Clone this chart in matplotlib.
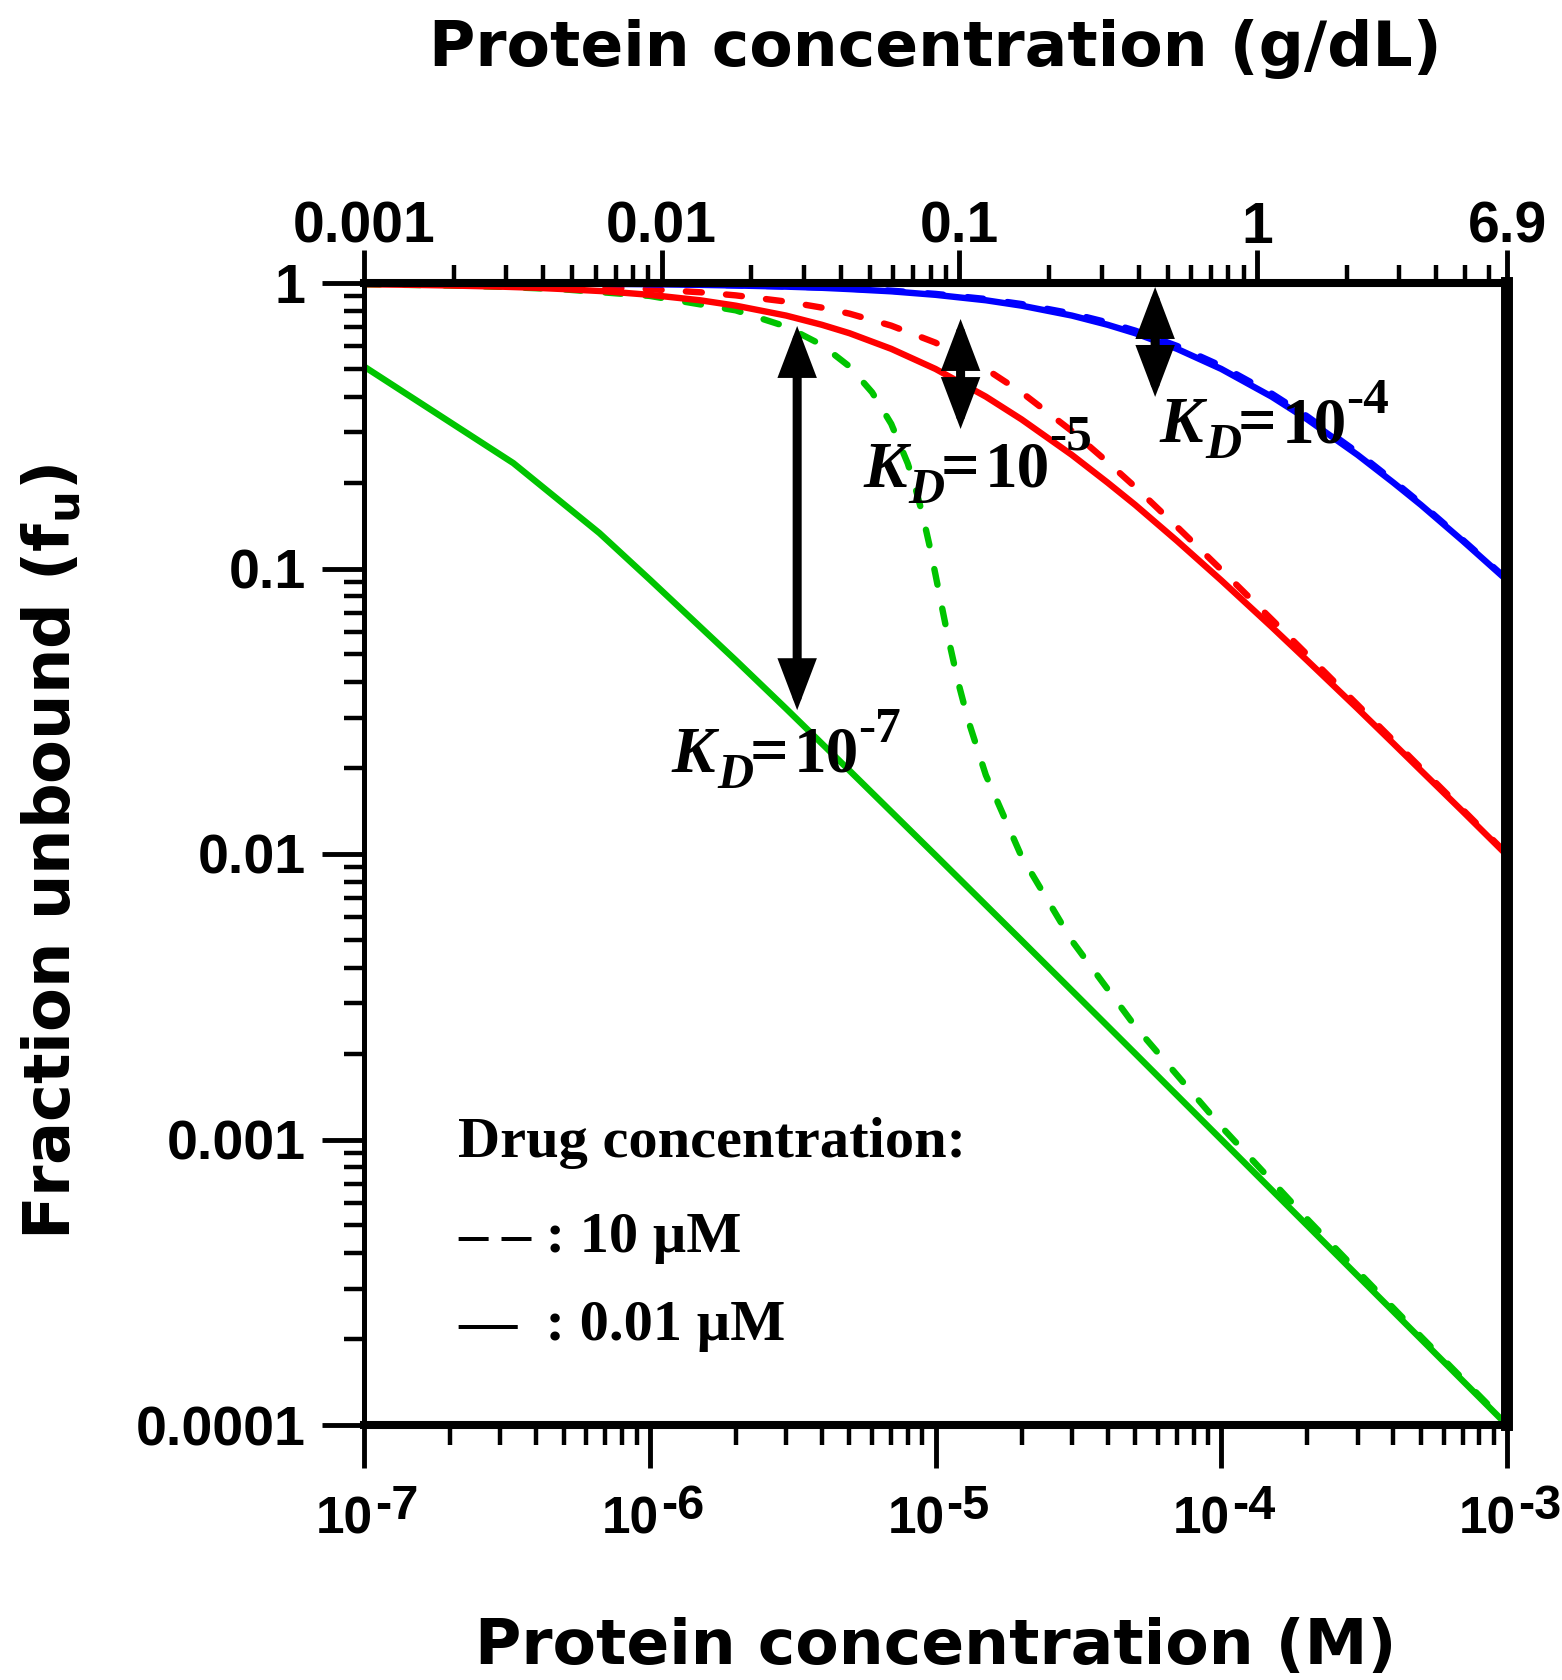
import numpy as np
import matplotlib
matplotlib.use("Agg")
import matplotlib.pyplot as plt
import matplotlib.transforms as mtransforms
from matplotlib.ticker import FixedLocator, NullFormatter, LogLocator

# ---------------- data ----------------
# protein concentration grid (M) for the smooth curves
protein_M = [1e-7, 1.5e-7, 2e-7, 3e-7, 4e-7, 5e-7, 7e-7,
             1e-6, 1.5e-6, 2e-6, 3e-6, 4e-6, 5e-6, 7e-6,
             1e-5, 1.5e-5, 2e-5, 3e-5, 4e-5, 5e-5, 7e-5,
             1e-4, 1.5e-4, 2e-4, 3e-4, 4e-4, 5e-4, 7e-4, 1e-3]

# KD = 1e-4 M
fu_kd4_low = [0.999, 0.9985, 0.998, 0.997, 0.996, 0.995, 0.993,
              0.990, 0.985, 0.980, 0.971, 0.962, 0.952, 0.935,
              0.909, 0.870, 0.833, 0.769, 0.714, 0.667, 0.588,
              0.500, 0.400, 0.333, 0.250, 0.200, 0.167, 0.125, 0.0909]
fu_kd4_high = [0.999, 0.9985, 0.998, 0.997, 0.996, 0.995, 0.994,
               0.991, 0.987, 0.982, 0.973, 0.965, 0.956, 0.940,
               0.916, 0.879, 0.844, 0.782, 0.728, 0.681, 0.602,
               0.5125, 0.410, 0.341, 0.255, 0.203, 0.169, 0.126, 0.0917]
# KD = 1e-5 M
fu_kd5_low = [0.990, 0.985, 0.980, 0.971, 0.962, 0.952, 0.935,
              0.909, 0.870, 0.833, 0.769, 0.714, 0.667, 0.588,
              0.500, 0.400, 0.333, 0.250, 0.200, 0.167, 0.125,
              0.0909, 0.0625, 0.0476, 0.0323, 0.0244, 0.0196, 0.0141, 0.0099]
fu_kd5_high = [0.995, 0.9925, 0.990, 0.985, 0.980, 0.975, 0.966,
               0.951, 0.928, 0.905, 0.861, 0.820, 0.781, 0.709,
               0.618, 0.500, 0.414, 0.303, 0.236, 0.193, 0.140,
               0.0990, 0.0664, 0.0499, 0.0333, 0.0250, 0.0200, 0.0143, 0.0100]
# KD = 1e-7 M, 0.01 uM drug (coarse sampling visible as kinks)
protein_M_kd7_low = [1e-7, 3.33e-7, 6.67e-7, 1e-6, 2e-6, 3e-6, 5e-6, 1e-5,
                     2e-5, 5e-5, 1e-4, 2e-4, 5e-4, 1e-3]
fu_kd7_low = [0.51, 0.234, 0.133, 0.0915, 0.0477, 0.0323, 0.0196, 0.0099,
              0.00498, 0.0020, 0.00100, 0.000500, 0.000200, 0.000100]
# KD = 1e-7 M, 10 uM drug
protein_M_kd7_high = [1e-7, 2e-7, 3e-7, 5e-7, 1e-6, 2e-6, 3e-6, 4e-6, 5e-6, 6e-6,
                      7e-6, 8e-6, 8.5e-6, 9e-6, 9.5e-6, 1e-5, 1.05e-5, 1.1e-5, 1.2e-5,
                      1.3e-5, 1.5e-5, 2e-5, 3e-5, 5e-5, 1e-4, 2e-4, 5e-4, 1e-3]
fu_kd7_high = [0.990, 0.980, 0.970, 0.950, 0.901, 0.802, 0.704, 0.607, 0.510, 0.414,
               0.321, 0.233, 0.192, 0.155, 0.122, 0.0951, 0.0744, 0.0591, 0.0400,
               0.0295, 0.0189, 0.0098, 0.00497, 0.00249, 0.00111, 0.000526, 0.000204, 0.000101]

y_ticks = [1e-4, 1e-3, 1e-2, 1e-1, 1]
y_ticklabels = ["0.0001", "0.001", "0.01", "0.1", "1"]
x_exponents = [-7, -6, -5, -4, -3]
top_ticks = [0.001, 0.01, 0.1, 1, 6.9]
top_ticklabels = ["0.001", "0.01", "0.1", "1", "6.9"]
top_minor = [k * 10.0 ** e for e in (-3, -2, -1) for k in range(2, 10)] + [2, 3, 4, 5, 6]

# annotation labels: (x, y, exponent, superscript raise px) and arrows
kd_labels = [(6.10e-5, 0.2773, "-4", 29), (5.575e-6, 0.1930, "-5", 37), (1.196e-6, 0.01938, "-7", 30)]
arrows = [(5.87e-5, 0.968, 0.399), (1.224e-5, 0.748, 0.308), (3.28e-6, 0.707, 0.0319)]

# ---------------- figure ----------------
W, H = 1562, 1680
fig = plt.figure(figsize=(W / 100, H / 100), dpi=100)
L, R, T, B = 364, 1507, 283, 1425
ax = fig.add_axes([L / W, 1 - B / H, (R - L) / W, (B - T) / H])
ax.set_xscale("log")
ax.set_yscale("log")
ax.set_xlim(1e-7, 1e-3)
ax.set_ylim(1e-4, 1)

GREEN = "#00C400"
lw = 4.6
dash = (0, (2.5, 3.8))
ax.plot(protein_M_kd7_low, fu_kd7_low, color=GREEN, lw=lw, solid_capstyle="butt")
ax.plot(protein_M_kd7_high, fu_kd7_high, color=GREEN, lw=lw, linestyle=dash, dash_capstyle="round")
ax.plot(protein_M, fu_kd5_low, color="#FF0000", lw=lw)
ax.plot(protein_M, fu_kd5_high, color="#FF0000", lw=lw, linestyle=dash, dash_capstyle="round")
ax.plot(protein_M, fu_kd4_high, color="#0000FF", lw=lw, linestyle=dash, dash_capstyle="round")
ax.plot(protein_M, fu_kd4_low, color="#0000FF", lw=lw)

# spines
ax.spines["top"].set_visible(False)
ax.spines["left"].set_linewidth(3.6)
ax.spines["bottom"].set_linewidth(5.8)
ax.spines["right"].set_linewidth(8.6)

# y axis ticks
ax.yaxis.set_major_locator(FixedLocator(y_ticks))
ax.set_yticklabels(y_ticklabels)
ax.yaxis.set_minor_locator(LogLocator(base=10, subs=np.arange(2, 10), numticks=50))
ax.yaxis.set_minor_formatter(NullFormatter())
ax.tick_params(axis="y", which="major", direction="out", length=30, width=3.5, pad=12,
               labelsize=40)
ax.tick_params(axis="y", which="minor", direction="out", length=14.4, width=3.2)
for lab in ax.get_yticklabels():
    lab.set_fontfamily("Liberation Sans")
    lab.set_fontweight("bold")

# x axis ticks (bottom)
ax.xaxis.set_major_locator(FixedLocator([10.0 ** e for e in x_exponents]))
ax.xaxis.set_major_formatter(NullFormatter())
ax.xaxis.set_minor_locator(LogLocator(base=10, subs=np.arange(2, 10), numticks=50))
ax.xaxis.set_minor_formatter(NullFormatter())
ax.tick_params(axis="x", which="major", direction="out", length=31, width=3.5)
ax.tick_params(axis="x", which="minor", direction="out", length=14.4, width=3.2)

blend = mtransforms.blended_transform_factory(ax.transData, ax.transAxes)
t_base = mtransforms.offset_copy(blend, fig=fig, x=9, y=0, units="dots")
t_exp = mtransforms.offset_copy(blend, fig=fig, x=11, y=0, units="dots")
for e in x_exponents:
    ax.text(10.0 ** e, (B - 1534) / (B - T), "10", transform=t_base, ha="right", va="baseline",
            fontsize=37, fontweight="bold", family="Liberation Sans", clip_on=False)
    ax.text(10.0 ** e, (B - 1519) / (B - T), "-%d" % abs(e), transform=t_exp, ha="left",
            va="baseline", fontsize=35, fontweight="bold", family="Liberation Sans", clip_on=False)

# top axis (g/dL)
ax2 = ax.twiny()
ax2.set_xscale("log")
ax2.set_xlim(0.001, 6.9)
ax2.xaxis.set_major_locator(FixedLocator(top_ticks))
ax2.set_xticklabels(top_ticklabels)
ax2.xaxis.set_minor_locator(FixedLocator(top_minor))
ax2.xaxis.set_minor_formatter(NullFormatter())
ax2.tick_params(axis="x", which="major", direction="out", length=23.8, width=3.5, pad=-3.5,
                labelsize=41)
ax2.tick_params(axis="x", which="minor", direction="out", length=13, width=3.2)
for lab in ax2.get_xticklabels():
    lab.set_fontfamily("Liberation Sans")
    lab.set_fontweight("bold")
for s in ("left", "right", "bottom"):
    ax2.spines[s].set_visible(False)
ax2.spines["top"].set_linewidth(5.8)

# arrows
for x, y0, y1 in arrows:
    ax.annotate("", xy=(x, y1), xytext=(x, y0), xycoords="data",
                arrowprops=dict(arrowstyle="<|-|>,head_length=25,head_width=9.5",
                                lw=6.5, color="black", shrinkA=0, shrinkB=0,
                                mutation_scale=1, joinstyle="miter"))

# KD labels
serif = "Liberation Serif"
for x, y, ex, rise in kd_labels:
    ax.annotate("K", xy=(x, y), xytext=(0, 0), textcoords="offset pixels", ha="left",
                va="baseline", fontsize=47, fontweight="bold", fontstyle="italic", family=serif)
    ax.annotate("D", xy=(x, y), xytext=(45, -16), textcoords="offset pixels", ha="left",
                va="baseline", fontsize=36, fontweight="bold", fontstyle="italic", family=serif)
    ax.annotate("=", xy=(x, y), xytext=(78, 0), textcoords="offset pixels", ha="left",
                va="baseline", fontsize=49, fontweight="bold", family=serif)
    ax.annotate("10", xy=(x, y), xytext=(122, 0), textcoords="offset pixels", ha="left",
                va="baseline", fontsize=47, fontweight="bold", family=serif)
    ax.annotate(ex, xy=(x, y), xytext=(186, rise), textcoords="offset pixels", ha="left",
                va="baseline", fontsize=37, fontweight="bold", family=serif)

# legend-like text block
leg_x = (458 - L) / (R - L)
for txt, yb in [("Drug concentration:", 1157), ("\u2013 \u2013 : 10 \u00b5M", 1252),
                ("\u2014  : 0.01 \u00b5M", 1340)]:
    ax.text(leg_x, (B - yb) / (B - T), txt, transform=ax.transAxes, ha="left", va="baseline",
            fontsize=42, fontweight="bold", family=serif)

# axis titles
cx = (L + R) / 2 / W
fig.text(cx, 1 - 66 / H, "Protein concentration (g/dL)", ha="center", va="baseline",
         fontsize=45.5, fontweight="bold", family="DejaVu Sans")
fig.text(cx, 1 - 1664 / H, "Protein concentration (M)", ha="center", va="baseline",
         fontsize=45.5, fontweight="bold", family="DejaVu Sans")
fig.text(70 / W, 1 - 851.5 / H, r"Fraction unbound (f$_{\mathbf{u}}$)", rotation=90,
         rotation_mode="anchor", ha="center", va="baseline",
         fontsize=46, fontweight="bold", family="DejaVu Sans")

fig.savefig("out.png", dpi=100)
